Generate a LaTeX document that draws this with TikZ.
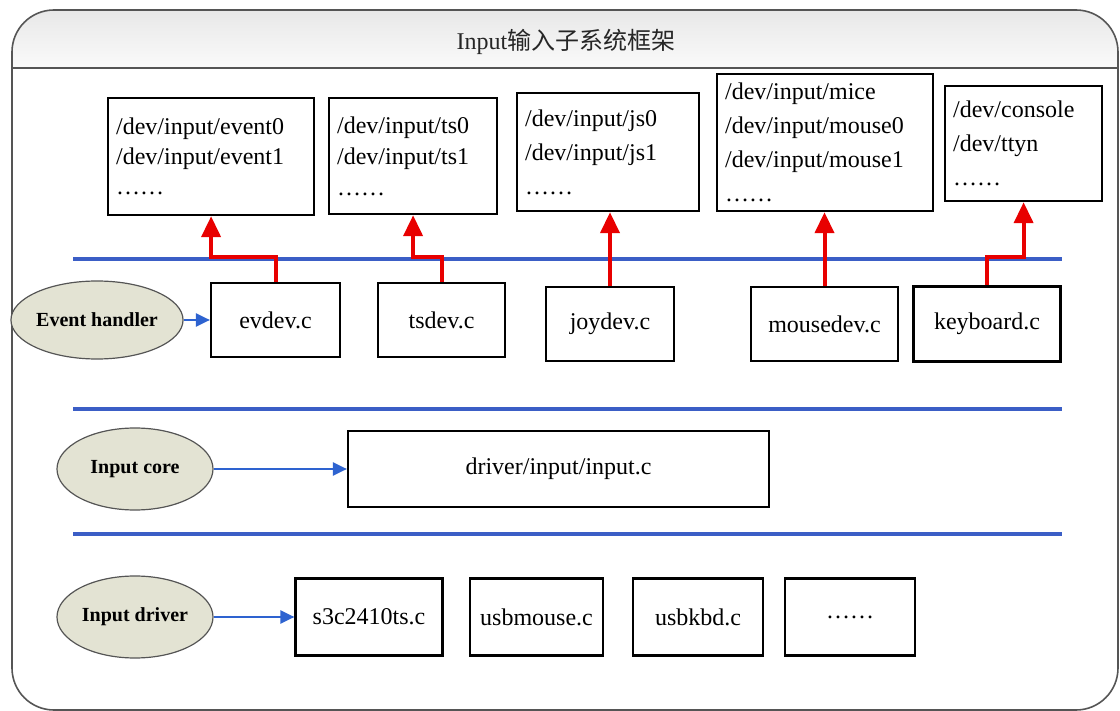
\documentclass[tikz,border=0pt]{standalone}
\usepackage{fontspec}
\setmainfont{Liberation Serif}
\newfontfamily\cjk{Noto Sans CJK SC}
\usetikzlibrary{shapes.geometric,arrows.meta}

\definecolor{layerblue}{RGB}{59,94,198}
\definecolor{linkblue}{RGB}{46,99,208}
\definecolor{flowred}{RGB}{232,0,0}
\definecolor{ovalfill}{RGB}{227,227,211}
\definecolor{framegray}{RGB}{85,85,85}

\begin{document}
\begin{tikzpicture}[x=1pt,y=-1pt,
  filebox/.style={draw=black, line width=2.2pt, fill=white, inner sep=0pt,
    font=\fontsize{24}{28}\selectfont},
  listbox/.style={filebox, anchor=north west, align=left, inner xsep=8pt,
    font=\fontsize{24}{#1}\selectfont},
  listbox/.default=33,
  oval/.style={ellipse, draw=framegray, line width=1.2pt, fill=ovalfill,
    inner sep=0pt, font=\bfseries\fontsize{20}{24}\selectfont},
  layerline/.style={layerblue, line width=4pt},
  bluelink/.style={linkblue, line width=2.2pt, -{Triangle[length=14pt,width=13pt]}},
  redlink/.style={flowred, line width=4pt, -{Triangle[length=21pt,width=19pt]}}
]
\useasboundingbox (0,0) rectangle (1120,711);

% outer frame with shaded title bar
\begin{scope}
  \clip[rounded corners=42] (12,10) rectangle (1118,710);
  \shade[top color=black!9, bottom color=black!2] (12,10) rectangle (1118,68);
\end{scope}
\draw[framegray, line width=1.6pt, rounded corners=42] (12,10) rectangle (1118,710);
\draw[framegray, line width=1.6pt] (12,68) -- (1118,68);
\node[text=black!85, font=\fontsize{24}{28}\selectfont] (title) at (566,42) {Input{\cjk 输入子系统框架}};

% layer dividers
\draw[layerline] (73,259) -- (1062,259);
\draw[layerline] (73,409) -- (1062,409);
\draw[layerline] (73,534) -- (1062,534);

% device files
\node[listbox=30, text width=190, minimum height=117] (dev1) at (107,97)
  {/dev/input/event0\\/dev/input/event1\\……};
\node[listbox=31, text width=152, minimum height=116] (dev2) at (328,97)
  {/dev/input/ts0\\/dev/input/ts1\\……};
\node[listbox=34, text width=166, minimum height=118] (dev3) at (516,92)
  {/dev/input/js0\\/dev/input/js1\\……};
\node[listbox=34, text width=200, minimum height=137] (dev4) at (716,73)
  {/dev/input/mice\\/dev/input/mouse0\\/dev/input/mouse1\\……};
\node[listbox=34, text width=141, minimum height=115] (dev5) at (944,85)
  {/dev/console\\/dev/ttyn\\……};

% event handlers
\node[oval, minimum width=172, minimum height=78] (eh) at (97,320) {Event handler};
\node[filebox, minimum width=129, minimum height=74] (evdev) at (275.5,320) {evdev.c};
\node[filebox, minimum width=127, minimum height=74] (tsdev) at (441.5,320) {tsdev.c};
\node[filebox, minimum width=128, minimum height=74] (joydev) at (610,324) {joydev.c};
\node[filebox, minimum width=147, minimum height=74] (mousedev) at (824.5,324) {mousedev.c};
\node[filebox, minimum width=147, minimum height=75] (keyboard) at (987,324) {keyboard.c};

% input core
\node[oval, minimum width=156, minimum height=82] (core) at (135,469) {Input core};
\node[filebox, minimum width=421, minimum height=76] (inputc) at (558.5,469) {driver/input/input.c};

% input drivers
\node[oval, minimum width=156, minimum height=82] (drv) at (135,617) {Input driver};
\node[filebox, minimum width=147, minimum height=77] (s3c) at (369,617) {s3c2410ts.c};
\node[filebox, minimum width=133, minimum height=77] (usbmouse) at (536.5,617) {usbmouse.c};
\node[filebox, minimum width=130, minimum height=77] (usbkbd) at (698,617) {usbkbd.c};
\node[filebox, minimum width=130, minimum height=77] (more) at (850,617) {……};

% layer links
\draw[bluelink] (eh.east) -- (evdev.west);
\draw[bluelink] (core.east) -- (inputc.west);
\draw[bluelink] (drv.east) -- (s3c.west);

% handlers export device files
\draw[redlink] (evdev.north) -- ++(0,-25) -| (dev1.south);
\draw[redlink] (tsdev.north) -- ++(0,-25) -| (dev2.south);
\draw[redlink] (joydev.north) -- (joydev.north |- dev3.south);
\draw[redlink] (mousedev.north) -- (mousedev.north |- dev4.south);
\draw[redlink] (keyboard.north) -- ++(0,-28) -| (dev5.south);
\end{tikzpicture}
\end{document}
